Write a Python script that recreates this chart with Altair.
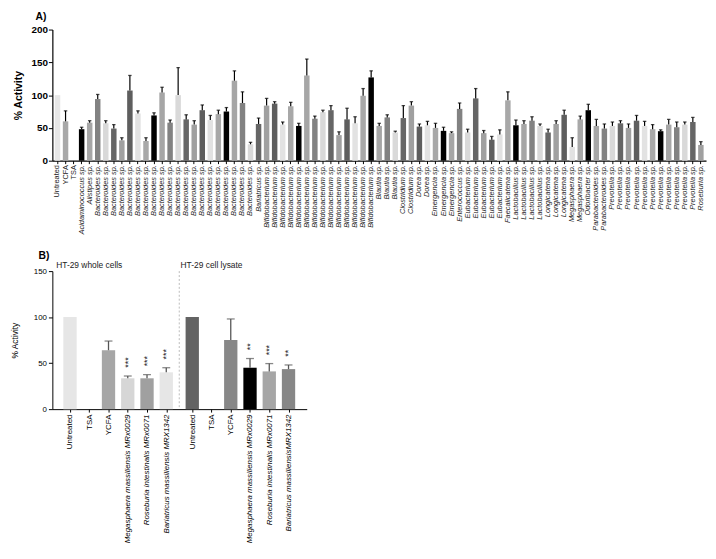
import json
import altair as alt
import pandas as pd

# ---------------- Panel A data ----------------
a_names = (["Untreated", "YCFA", "TSA", "Acidaminococcus sp.", "Alistipes sp."]
           + ["Bacteroides sp."] * 20 + ["Bariatricus sp."]
           + ["Bifidobacterium sp."] * 14 + ["Blautia sp."] * 3
           + ["Clostridium sp."] * 2 + ["Dorea sp."] * 2 + ["Emergencia sp."] * 3
           + ["Enterococcus sp."] + ["Eubacterium sp."] * 5 + ["Faecalicatena sp."]
           + ["Lactobacillus sp."] * 4 + ["Longicatena sp."] * 3 + ["Megasphaera sp."] * 2
           + ["Odoribacter sp."] + ["Parabacteroides sp."] * 2 + ["Prevotella sp."] * 11
           + ["Roseburia sp."])

a_values = [100, 60, 0, 48, 58,
            94, 57, 49, 31, 107, 72, 30, 69, 104, 58, 100, 63, 55, 77, 62, 71, 75, 122, 88, 25,
            56,
            84, 87, 55, 83, 53, 130, 64, 74, 77, 39, 63, 57, 99, 127,
            53, 66, 43,
            65, 84,
            52, 54,
            50, 45.5, 42,
            79,
            43, 95, 42, 32, 40,
            92,
            54, 56, 61, 53,
            43, 56, 70,
            21, 63,
            77,
            53, 49,
            53, 57, 50, 61, 53, 48, 45, 55, 51, 55, 59,
            24]

a_err = [None, 76, None, 51, 61,
         101, 61, 55, 35, 130, 76, 35, 73, 112, 62, 142, 70, 61, 85, 69, 77, 81, 137, 105, 28,
         65,
         95, 90, 59, 89, 57, 155, 68, 77, 84, 44, 80, 67, 110, 137,
         57, 70, 45,
         84, 90,
         56, 60,
         57, 51, 44,
         88,
         48, 110, 46, 37, 47,
         105,
         62, 61, 67, 56,
         48, 61, 77,
         35, 68,
         86,
         63, 56,
         59, 61, 56, 69, 60, 55, 47, 63, 59, 59, 66,
         29]

a_control_colors = ["#e6e6e6", "#a8a8a8", "#ffffff"]
a_cycle = ["#5e5e5e", "#e2e2e2", "#a8a8a8", "#000000", "#a6a6a6",
           "#828282", "#d9d9d9", "#666666", "#a0a0a0"]

# ---------------- Panel B data ----------------
b_names = ["Untreated", "TSA", "YCFA",
           "Megasphaera massiliensis MRx0029", "Roseburia intestinalis MRx0071",
           "Bariatricus massiliensis MRX1342",
           "Untreated", "TSA", "YCFA",
           "Megasphaera massiliensis MRx0029", "Roseburia intestinalis MRx0071",
           "Bariatricus massiliensisMRX1342"]
b_group = ["whole"] * 6 + ["lysate"] * 6
b_values = [100, 0, 64, 33.5, 33.5, 40, 100, 0, 75, 45, 41, 43.5]
b_err = [None, None, 74, 36, 37.5, 45, None, None, 98, 55, 49.5, 48]
b_stars = ["", "", "", "***", "***", "***", "", "", "", "**", "***", "**"]
b_colors = ["#e6e6e6", "#ffffff", "#a6a6a6", "#d6d6d6", "#a0a0a0", "#e6e6e6",
            "#636363", "#ffffff", "#878787", "#000000", "#a6a6a6", "#878787"]
b_titles = ["HT-29 whole cells", "HT-29 cell lysate"]

FONT = "Liberation Sans"

# ---------------- Panel A chart ----------------
keys = [f"{n}|{i}" for i, n in enumerate(a_names)]
colorsA = [a_control_colors[i] if i < 3 else a_cycle[i % 9] for i in range(len(a_names))]
dfA = pd.DataFrame({"key": keys, "value": a_values, "err": a_err, "color": colorsA})

scaleXA = alt.Scale(paddingInner=0.32, paddingOuter=0.3)
axisXA = alt.Axis(title=None,
                  labelExpr="split(datum.value, '|')[0]",
                  labelAngle=270, labelFontSize=7.5, labelColor="#222222",
                  labelFontStyle={"condition": {"test": "toNumber(split(datum.value, '|')[1]) >= 3",
                                                "value": "italic"},
                                  "value": "normal"},
                  labelPadding=1, tickSize=3, tickColor="black",
                  domainColor="black", domainWidth=1.2)
xA = alt.X("key:N", sort=keys, scale=scaleXA, axis=axisXA)
scaleYA = alt.Scale(domain=[0, 200], nice=False)
axisYA = alt.Axis(title="% Activity", values=[0, 50, 100, 150, 200],
                  labelFontSize=10, labelFontWeight="bold", labelColor="black",
                  labelOverlap=False,
                  titleFontSize=10.5, titleFontWeight="bold", titleColor="black",
                  titlePadding=8, tickSize=4, tickColor="black",
                  domainColor="black", domainWidth=1.2, grid=False, labelPadding=1)
yA = alt.Y("value:Q", scale=scaleYA, axis=axisYA)
y2A = alt.Y2("err:Q")
yErrA = alt.Y("err:Q", scale=scaleYA, axis=axisYA)

baseA = alt.Chart(dfA)
barsA = baseA.mark_bar().encode(x=xA, y=yA, color=alt.Color("color:N", scale=None))
ruleA = baseA.transform_filter("isValid(datum.err)").mark_rule(color="black", strokeWidth=1.2).encode(
    x=xA, y=yA, y2=y2A)
capA = baseA.transform_filter("isValid(datum.err)").mark_tick(color="black", size=3.5, thickness=1.3).encode(
    x=xA, y=yErrA)

chartA = alt.layer(barsA, ruleA, capA).properties(
    width=663, height=133,
    title=alt.TitleParams("A)", anchor="start", frame="group", dx=-17, fontSize=10.5,
                          fontWeight="bold", offset=2))

# ---------------- Panel B chart ----------------
gap = 0.35
posB = [i + (gap if g == "lysate" else 0) for i, g in enumerate(b_group)]
sep = (posB[5] + posB[6]) / 2
dfB = pd.DataFrame({"pos": posB, "name": b_names, "value": b_values, "err": b_err,
                    "stars": b_stars, "color": b_colors})
dfB["star_y"] = dfB["err"] + 9

idx_expr = f"(datum.value < {sep} ? round(datum.value) : round(datum.value - {gap}))"
label_expr = f"{json.dumps(b_names)}[{idx_expr}]"

scaleXB = alt.Scale(domain=[posB[0] - 0.66, posB[-1] + 0.69], nice=False, zero=False)
axisXB = alt.Axis(title=None, values=posB, labelExpr=label_expr,
                  labelAngle=270, labelFontSize=8, labelColor="black",
                  labelFontStyle={"condition": {"test": f"{idx_expr} % 6 >= 3", "value": "italic"},
                                  "value": "normal"},
                  labelPadding=2, tickSize=3, tickColor="black", grid=False,
                  domainColor="black", labelOverlap=False, labelFlush=False)
xB = alt.X("pos:Q", scale=scaleXB, axis=axisXB)
scaleYB = alt.Scale(domain=[0, 150], nice=False)
axisYB = alt.Axis(title="% Activity", values=[0, 50, 100, 150],
                  labelFontSize=8, labelColor="black", titleFontSize=8.5, labelOverlap=False,
                  titleFontWeight="normal", titleColor="black", titlePadding=14,
                  tickSize=4, tickColor="black", domainColor="black", grid=False)
yB = alt.Y("value:Q", scale=scaleYB, axis=axisYB)
yErrB = alt.Y("err:Q", scale=scaleYB, axis=axisYB)
yStarB = alt.Y("star_y:Q", scale=scaleYB, axis=axisYB)

baseB = alt.Chart(dfB)
barsB = baseB.mark_bar(size=13.5).encode(x=xB, y=yB, color=alt.Color("color:N", scale=None))
ruleB = baseB.transform_filter("isValid(datum.err)").mark_rule(color="#555555", strokeWidth=1.3).encode(
    x=xB, y=yB, y2=alt.Y2("err:Q"))
capB = baseB.transform_filter("isValid(datum.err)").mark_tick(color="#555555", size=8, thickness=1.3,
                                                               orient="horizontal").encode(
    x=xB, y=yErrB)
starsB = baseB.transform_filter("datum.stars != ''").mark_text(
    angle=270, align="left", baseline="middle", fontSize=9, fill="#222222").encode(
    x=xB, y=yStarB, text="stars:N")
sepB = alt.Chart(pd.DataFrame({"pos": [sep]})).mark_rule(
    color="#aaaaaa", strokeDash=[2, 2], strokeWidth=0.8).encode(x=xB)
dfT = pd.DataFrame({"title": b_titles,
                    "pos": [(posB[0] + posB[2]) / 2, (posB[6] + posB[8]) / 2],
                    "value": [150, 150]})
titlesB = alt.Chart(dfT).mark_text(fontSize=8.5, baseline="bottom", dy=-1, fill="#222222").encode(
    x=xB, y=yB, text="title:N")

chartB = alt.layer(barsB, ruleB, capB, starsB, sepB, titlesB).properties(
    width=258, height=140,
    title=alt.TitleParams("B)", anchor="start", frame="group", dx=-14, fontSize=10.5,
                          fontWeight="bold", offset=0))

chart = alt.vconcat(chartA, chartB, spacing=16).properties(
    padding={"left": 2, "top": 0, "right": 2, "bottom": 2}
).configure(font=FONT).configure_view(stroke=None)

chart.save("out.html", embed_options={"renderer": "svg", "actions": False})
